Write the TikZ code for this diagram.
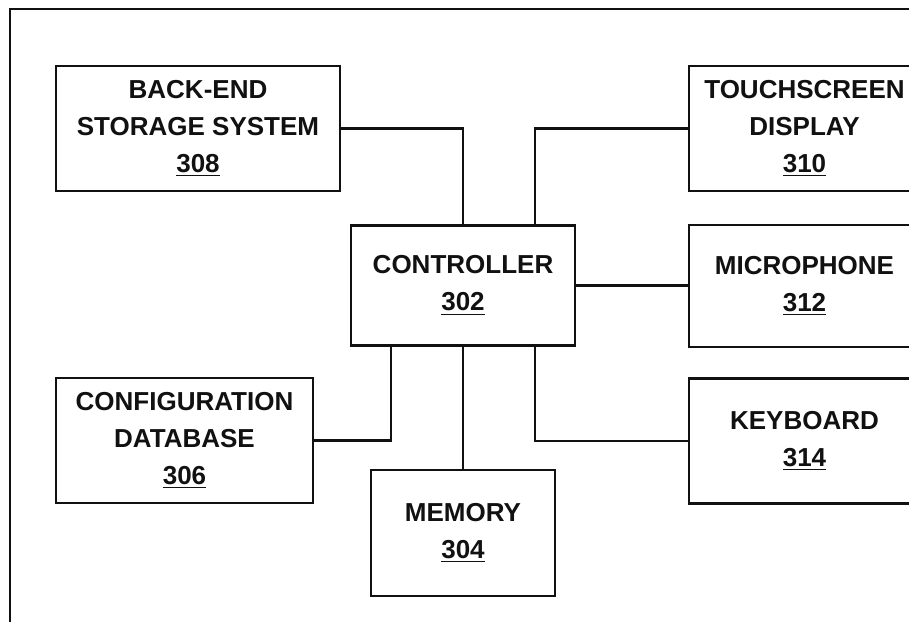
\documentclass[tikz,border=0pt]{standalone}
\usepackage{fontspec}
\setmainfont{Liberation Sans}
\usepackage{xcolor}
\usetikzlibrary{positioning,calc}
\definecolor{PInk}{HTML}{111111}
\definecolor{PBg}{HTML}{FFFFFF}

\begin{document}
\begin{tikzpicture}[
  x=0.5pt, y=-0.5pt,
  every node/.style={font=\fontsize{13}{18.5}\selectfont\bfseries, text=PInk},
  blk/.style ={draw=PInk, fill=PBg, line width=1.2pt, align=center, inner sep=0pt,
               minimum height=62.5pt},
  link/.style={draw=PInk, line width=1.2pt},
]
\useasboundingbox (0,0) rectangle (909,621);
\clip (0,0) rectangle (909,621);
\fill[PBg] (0,0) rectangle (909,621);
% outer frame
\draw[link] (10,630) -- (10,9) -- (920,9);

\node[blk, minimum width=142pt] (store) at (198,128.5) {BACK-END\\STORAGE SYSTEM\\\underline{308}};
\node[blk, minimum width=115.5pt] (touch) at (804.5,128.5) {TOUCHSCREEN\\DISPLAY\\\underline{310}};
\node[blk, minimum width=112pt, minimum height=60pt] (ctrl) at (463,285.5) {CONTROLLER\\\underline{302}};
\node[blk, minimum width=115.5pt, minimum height=61pt] (mic) at (804.5,286) {MICROPHONE\\\underline{312}};
\node[blk, minimum width=115.5pt] (keys) at (804.5,441) {KEYBOARD\\\underline{314}};
\node[blk, minimum width=128.5pt] (config) at (184.5,440.5) {CONFIGURATION\\DATABASE\\\underline{306}};
\node[blk, minimum width=92pt, minimum height=63pt] (mem) at (463,533) {MEMORY\\\underline{304}};

\draw[link] (store.east) -| (ctrl.north);
\draw[link] ([xshift=36pt]ctrl.north) |- (touch.west);
\draw[link] (ctrl.east) -- (ctrl.east -| mic.west);
\draw[link] ([xshift=-36pt]ctrl.south) |- (config.east);
\draw[link] (ctrl.south) -- (mem.north);
\draw[link] ([xshift=36pt]ctrl.south) |- (keys.west);
\end{tikzpicture}
\end{document}
